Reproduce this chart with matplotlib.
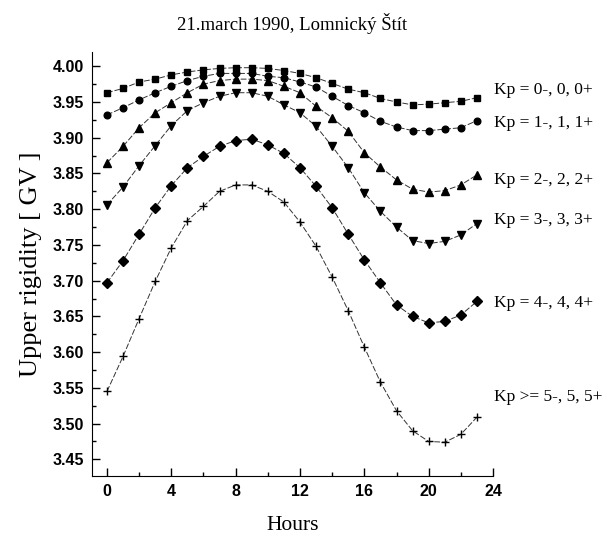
import matplotlib
matplotlib.use("Agg")
import matplotlib.pyplot as plt
from matplotlib.ticker import MultipleLocator, FormatStrFormatter

hours = list(range(24))

kp0 = [3.963, 3.969, 3.978, 3.982, 3.988, 3.992, 3.995, 3.997, 3.998, 3.998, 3.997, 3.994,
       3.990, 3.984, 3.976, 3.968, 3.963, 3.955, 3.950, 3.946, 3.947, 3.949, 3.951, 3.956]
kp1 = [3.932, 3.942, 3.953, 3.963, 3.972, 3.980, 3.986, 3.990, 3.990, 3.990, 3.986, 3.984,
       3.978, 3.971, 3.958, 3.945, 3.935, 3.923, 3.915, 3.910, 3.910, 3.912, 3.914, 3.924]
kp2 = [3.865, 3.888, 3.914, 3.935, 3.949, 3.963, 3.975, 3.980, 3.982, 3.982, 3.980, 3.972,
       3.963, 3.944, 3.928, 3.909, 3.879, 3.859, 3.841, 3.828, 3.824, 3.826, 3.834, 3.848]
kp3 = [3.806, 3.831, 3.861, 3.889, 3.917, 3.938, 3.949, 3.958, 3.963, 3.963, 3.958, 3.946,
       3.935, 3.916, 3.888, 3.858, 3.823, 3.797, 3.775, 3.756, 3.752, 3.755, 3.764, 3.780]
kp4 = [3.697, 3.728, 3.765, 3.802, 3.833, 3.858, 3.874, 3.888, 3.896, 3.898, 3.890, 3.878,
       3.858, 3.832, 3.802, 3.765, 3.729, 3.697, 3.666, 3.650, 3.641, 3.643, 3.652, 3.671]
kp5 = [3.545, 3.594, 3.647, 3.699, 3.746, 3.784, 3.804, 3.825, 3.834, 3.834, 3.825, 3.810,
       3.782, 3.748, 3.705, 3.658, 3.607, 3.558, 3.518, 3.490, 3.475, 3.474, 3.485, 3.509]

labels = ["Kp = 0-, 0, 0+", "Kp = 1-, 1, 1+", "Kp = 2-, 2, 2+",
          "Kp = 3-, 3, 3+", "Kp = 4-, 4, 4+", "Kp >= 5-, 5, 5+"]
label_y = [3.967, 3.921, 3.841, 3.785, 3.669, 3.537]

series = [kp0, kp1, kp2, kp3, kp4, kp5]
markers = ["s", "o", "^", "v", "D", "+"]
msizes = [4.8, 4.8, 6, 6, 5, 5.5]

serif = ["Liberation Serif", "DejaVu Serif"]
sans = ["Liberation Sans", "DejaVu Sans"]

fig = plt.figure(figsize=(6.08, 5.37), dpi=100)
ax = fig.add_axes([0.1513, 0.1136, 0.6596, 0.7896])

for vals, m, ms in zip(series, markers, msizes):
    ax.plot(hours, vals, color="0.2", linestyle=(0, (6, 2)), linewidth=0.7,
            marker=m, markersize=ms, markerfacecolor="black", markeredgecolor="black",
            markeredgewidth=1.0)

for lab, y in zip(labels, label_y):
    ax.text(24.05, y, lab, fontsize=12.5, family=serif, va="center", ha="left", clip_on=False)

ax.set_xlim(-0.93, 24)
ax.set_ylim(3.4267, 4.02)
ax.xaxis.set_major_locator(MultipleLocator(4))
ax.xaxis.set_minor_locator(MultipleLocator(2))
ax.yaxis.set_major_locator(MultipleLocator(0.05))
ax.yaxis.set_minor_locator(MultipleLocator(0.025))
ax.yaxis.set_major_formatter(FormatStrFormatter("%.2f"))
ax.tick_params(which="major", direction="in", length=6, width=1, labelsize=11.5, pad=6)
ax.tick_params(which="minor", direction="in", length=3, width=1)
for t in ax.get_xticklabels() + ax.get_yticklabels():
    t.set_family(sans)
    t.set_fontweight("bold")

ax.spines["top"].set_visible(False)
ax.spines["right"].set_visible(False)
ax.spines["bottom"].set_bounds(-0.93, 24)

ax.set_title("21.march 1990, Lomnický Štít", fontsize=13.5, family=serif, pad=16)
ax.set_xlabel("Hours", fontsize=15.5, family=serif, labelpad=12)
ax.set_ylabel("Upper rigidity [ GV ]", fontsize=19, family=serif, labelpad=7)

fig.savefig("out.png", dpi=100)
